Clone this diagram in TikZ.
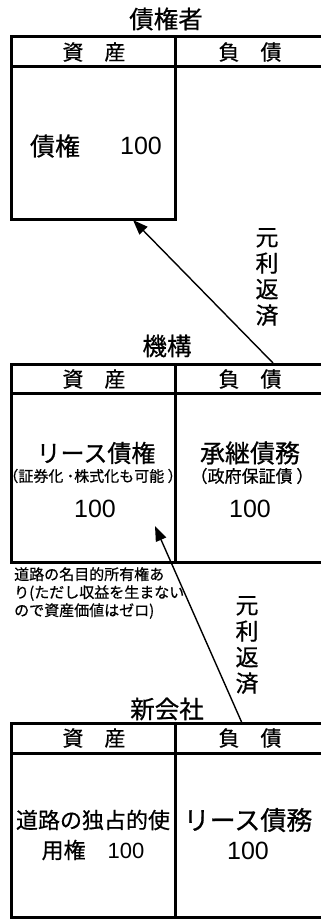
\documentclass[tikz,border=0pt]{standalone}
\usepackage{fontspec}
\setmainfont{Noto Sans CJK JP}[FakeBold=0.6]
\newfontfamily\numfont{Liberation Sans}
\usetikzlibrary{arrows.meta}
\tikzset{
  rule/.style={line width=3pt},
  txt/.style={inner sep=0pt, anchor=center},
  ttl/.style={txt, font=\fontsize{24.5}{24.5}\selectfont},
  hdr/.style={txt, font=\fontsize{21}{21}\selectfont},
  big/.style={txt, font=\fontsize{25}{25}\selectfont},
  num/.style={txt, font=\numfont\fontsize{25}{25}\selectfont},
  note/.style={inner sep=0pt, anchor=north west, align=left, font=\fontsize{15}{18}\selectfont},
  vert/.style={txt, align=center, font=\fontsize{23}{26}\selectfont},
  flow/.style={line width=1.4pt, -{Triangle[length=15pt,width=11pt]}},
}
\begin{document}
\begin{tikzpicture}[x=1pt,y=-1pt]
\useasboundingbox (0,0) rectangle (321,919);

% ---------- creditor ----------
\node[ttl] (t1) at (166,19) {債権者};
\draw[rule] (323,36) -- (11.5,36) -- (11.5,219) -- (175.5,219) -- (175.5,36);
\draw[rule] (11.5,66) -- (323,66);
\node[hdr] (h1a) at (94,52) {資　産};
\node[hdr] (h1b) at (250,52) {負　債};
\node[big] (c1) at (55,146) {債権};
\node[num] (c1n) at (141,146) {100};

% ---------- agency ----------
\node[ttl] (t2) at (167,346) {機構};
\draw[rule] (323,364) -- (11.5,364) -- (11.5,562) -- (323,562);
\draw[rule] (11.5,393) -- (323,393);
\draw[rule] (175.5,364) -- (175.5,562);
\node[hdr] (h2a) at (94,379) {資　産};
\node[hdr] (h2b) at (250,379) {負　債};
\node[big, font=\fontsize{24}{24}\selectfont] (l2) at (96,453) {リース債権};
\node[txt, font=\fontsize{15}{15}\selectfont] (l2s) at (93,476) {（証券化 ･株式化も可能 ）};
\node[num] (l2n) at (95,509) {100};
\node[txt, font=\fontsize{25}{25}\selectfont] (r2) at (250,453) {承継債務};
\node[txt, font=\fontsize{17}{17}\selectfont] (r2s) at (252,476) {（政府保証債 ）};
\node[num] (r2n) at (250,509) {100};

\node[note] (nt) at (14,567) {道路の名目的所有権あ\\り(ただし収益を生まない\\ので資産価値はゼロ)};

% ---------- new company ----------
\node[ttl] (t3) at (167,709) {新会社};
\draw[rule] (323,723) -- (11.5,723) -- (11.5,917.5) -- (323,917.5);
\draw[rule] (11.5,753) -- (323,753);
\draw[rule] (175.5,723) -- (175.5,917.5);
\node[hdr] (h3a) at (94,738) {資　産};
\node[hdr] (h3b) at (250,738) {負　債};
\node[txt, font=\fontsize{22}{22}\selectfont] (l3) at (93,820) {道路の独占的使};
\node[txt, font=\fontsize{22}{22}\selectfont] (l3b) at (93,850) {用権　{\numfont 100}};
\node[txt, font=\fontsize{26}{26}\selectfont] (r3) at (248,820) {リース債務};
\node[num] (r3n) at (248,851) {100};

% ---------- repayment arrows ----------
\node[vert] (v1) at (267,277) {元\\利\\返\\済};
\node[vert] (v2) at (247,645) {元\\利\\返\\済};
\coordinate (a1) at (273,363);
\coordinate (b1) at (133,220);
\coordinate (a2) at (242,723);
\coordinate (b2) at (155,526);
\draw[flow] (a1) -- (b1);
\draw[flow] (a2) -- (b2);
\end{tikzpicture}
\end{document}
